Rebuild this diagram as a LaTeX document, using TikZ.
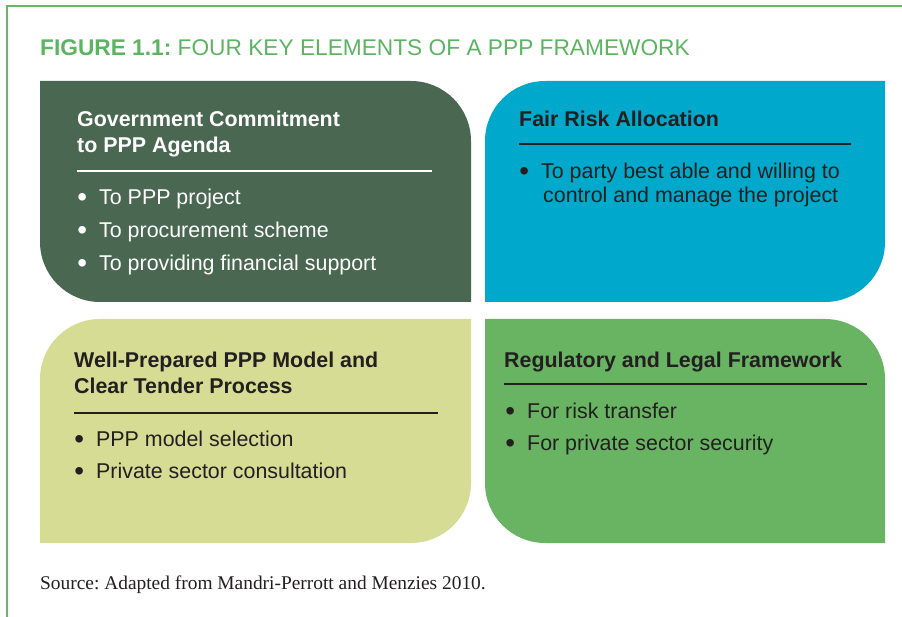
\documentclass[tikz,border=0pt]{standalone}
\usepackage{fontspec}
\setmainfont{Liberation Sans}
\newfontfamily\sourcefont{Liberation Serif}
\usepackage{tikz}
\frenchspacing
\def\rad{60}
\def\kap{33.1}
\def\itembul{\llap{\raisebox{-2pt}{\scalebox{1.3}{\textbullet}}\hspace{12pt}}}
\definecolor{framegreen}{RGB}{106,184,102}
\definecolor{titlegreen}{RGB}{92,180,98}
\definecolor{govgreen}{RGB}{74,104,81}
\definecolor{riskblue}{RGB}{0,168,204}
\definecolor{modelgreen}{RGB}{215,220,148}
\definecolor{legalgreen}{RGB}{104,180,99}
\definecolor{textdark}{RGB}{35,31,32}

\begin{document}
\begin{tikzpicture}[x=1pt,y=-1pt]
    \tikzstyle{head}=[anchor=base west,inner sep=0pt,font=\fontsize{21.4}{26}\selectfont\bfseries]
    \tikzstyle{item}=[anchor=base west,inner sep=0pt,font=\fontsize{21.4}{26}\selectfont]
    \tikzstyle{rule}=[line width=1.5pt]
    \useasboundingbox (0,0) rectangle (902,617);

    % Frame and title
    \draw[framegreen,line width=1.5pt] (7,617) -- (7,6) -- (902,6);
    \node[anchor=base west,inner sep=0pt,text=titlegreen,font=\fontsize{22.7}{27}\selectfont] (title) at (40,56)
        {\textbf{FIGURE 1.1:} FOUR KEY ELEMENTS OF A PPP FRAMEWORK};

    % The four panels, each with two round corners
    \fill[govgreen] (40,81) -- (471-\rad,81) .. controls (471-\rad+\kap,81) and (471,81+\rad-\kap) .. (471,81+\rad)
        -- (471,302) -- (40+\rad,302) .. controls (40+\rad-\kap,302) and (40,302-\rad+\kap) .. (40,302-\rad) -- cycle;
    \fill[riskblue] (485,81+\rad) .. controls (485,81+\rad-\kap) and (485+\rad-\kap,81) .. (485+\rad,81)
        -- (885,81) -- (885,302-\rad) .. controls (885,302-\rad+\kap) and (885-\rad+\kap,302) .. (885-\rad,302) -- (485,302) -- cycle;
    \fill[modelgreen] (40,319+\rad) .. controls (40,319+\rad-\kap) and (40+\rad-\kap,319) .. (40+\rad,319)
        -- (471,319) -- (471,543-\rad) .. controls (471,543-\rad+\kap) and (471-\rad+\kap,543) .. (471-\rad,543) -- (40,543) -- cycle;
    \fill[legalgreen] (485,319) -- (885-\rad,319) .. controls (885-\rad+\kap,319) and (885,319+\rad-\kap) .. (885,319+\rad)
        -- (885,543) -- (485+\rad,543) .. controls (485+\rad-\kap,543) and (485,543-\rad+\kap) .. (485,543-\rad) -- cycle;

    % Government commitment
    \node[head,white] (gov-h1) at (77,127) {Government Commitment};
    \node[head,white] (gov-h2) at (77,153) {to PPP Agenda};
    \draw[rule,white] (77,171) -- (432,171);
    \foreach \i/\txt in {1/To PPP project,2/To procurement scheme,3/To providing financial support}
        \node[item,white] (gov-\i) at (99,172+33*\i) {\itembul\txt};

    % Fair risk allocation
    \node[head,textdark] (risk-h) at (519,127) {Fair Risk Allocation};
    \draw[rule,textdark] (519,144) -- (851,144);
    \node[item,textdark] (risk-1) at (541,179) {\itembul To party best able and willing to};
    \node[item,textdark] (risk-1b) at (543,203) {control and manage the project};

    % Well-prepared model
    \node[head,textdark] (model-h1) at (74,367) {Well-Prepared PPP Model and};
    \node[head,textdark] (model-h2) at (74,393) {Clear Tender Process};
    \draw[rule,textdark] (74,413) -- (438,413);
    \foreach \i/\txt in {1/PPP model selection,2/Private sector consultation}
        \node[item,textdark] (model-\i) at (96,414+32*\i) {\itembul\txt};

    % Regulatory and legal framework
    \node[head,textdark] (legal-h) at (504,367) {Regulatory and Legal Framework};
    \draw[rule,textdark] (504,384) -- (867,384);
    \foreach \i/\txt in {1/For risk transfer,2/For private sector security}
        \node[item,textdark] (legal-\i) at (527,386+32*\i) {\itembul\txt};

    % Source
    \node[anchor=base west,inner sep=0pt,text=textdark,font=\sourcefont\fontsize{19.4}{23}\selectfont] (source) at (40,589)
        {Source: Adapted from Mandri-Perrott and Menzies 2010.};
\end{tikzpicture}
\end{document}
